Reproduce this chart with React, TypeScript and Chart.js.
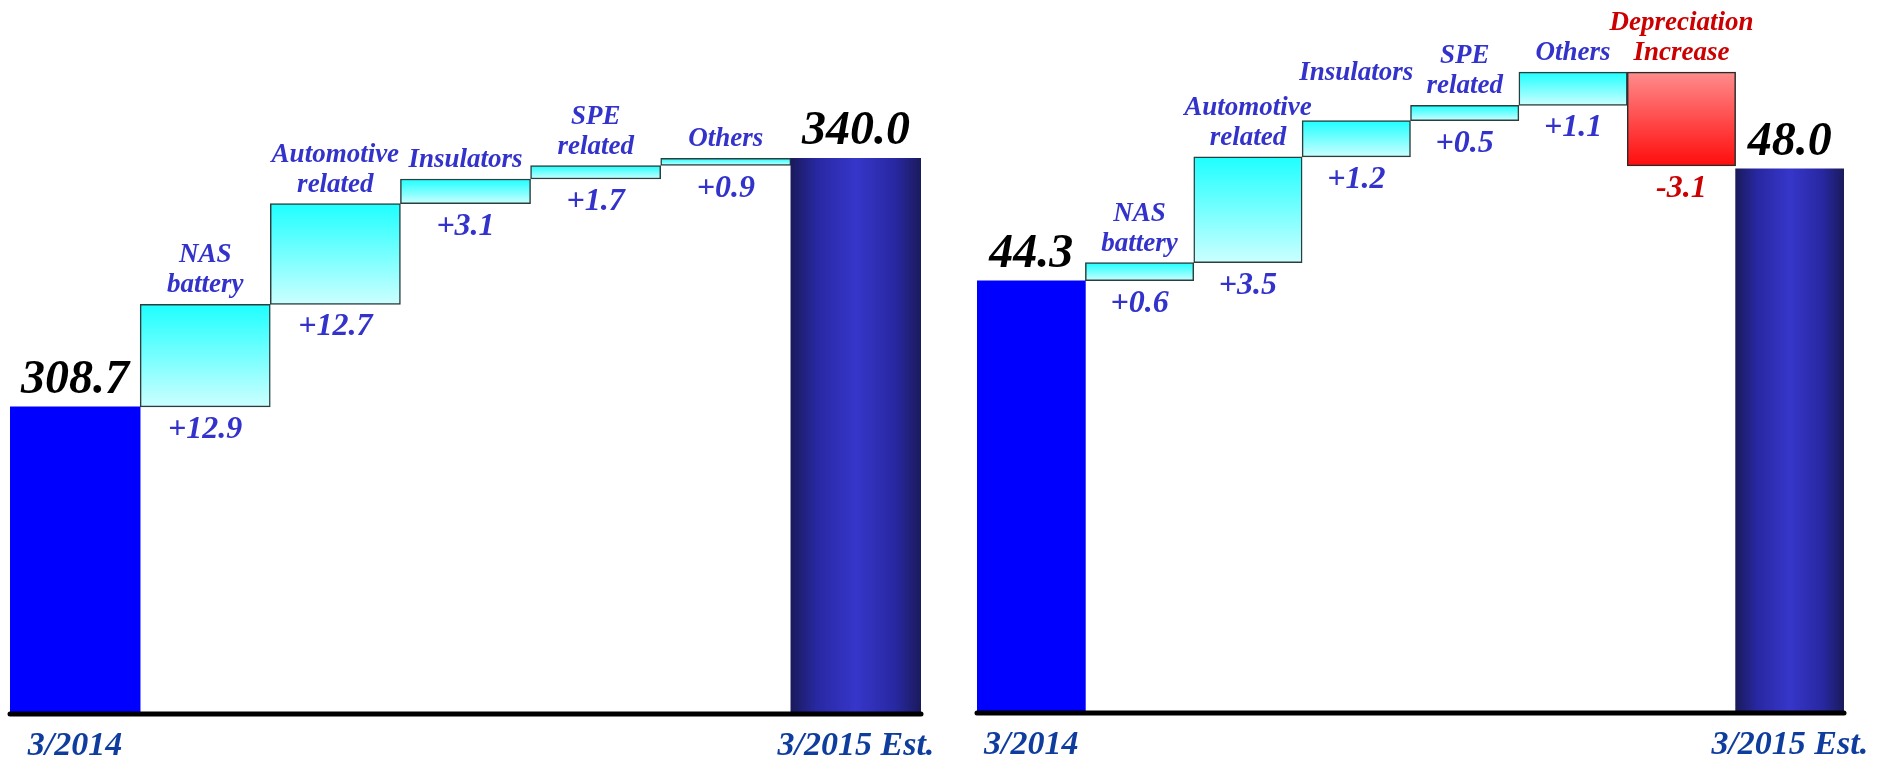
import React, { useEffect, useRef } from 'react';
import { Chart, registerables } from 'chart.js';

Chart.register(...registerables);

const FONT = '"Liberation Serif", "Times New Roman", serif';

// ---- Left chart: Net sales (billion yen) ----
const leftTotals = [308.7, 340.0];
const leftDeltas = [12.9, 12.7, 3.1, 1.7, 0.9];
const leftStepNames = ['NAS\nbattery', 'Automotive\nrelated', 'Insulators', 'SPE\nrelated', 'Others'];
const leftAxisLabels = ['3/2014', '3/2015 Est.'];
const leftRange = [270, 350];

// ---- Right chart: Operating income (billion yen) ----
const rightTotals = [44.3, 48.0];
const rightDeltas = [0.6, 3.5, 1.2, 0.5, 1.1, -3.1];
const rightStepNames = ['NAS\nbattery', 'Automotive\nrelated', 'Insulators', 'SPE\nrelated', 'Others', 'Depreciation\nIncrease'];
const rightAxisLabels = ['3/2014', '3/2015 Est.'];
const rightRange = [30, 52];

type Props = {
  totals: number[];
  deltas: number[];
  stepNames: string[];
  axisLabels: string[];
  range: number[];
  left: number;
  width: number;
  pad: { left: number; right: number; top: number; bottom: number };
};

const font = (size: number) => `italic bold ${size}px ${FONT}`;

function Waterfall({ totals, deltas, stepNames, axisLabels, range, left, width, pad }: Props) {
  const ref = useRef<HTMLCanvasElement | null>(null);

  useEffect(() => {
    if (!ref.current) return;
    const n = deltas.length + 2;
    const labels = [axisLabels[0], ...stepNames, axisLabels[1]];
    const totalData: (number | null)[] = [totals[0], ...deltas.map(() => null), totals[1]];
    const ups: (number[] | null)[] = [null];
    const downs: (number[] | null)[] = [null];
    let run = totals[0];
    deltas.forEach((d) => {
      if (d >= 0) {
        ups.push([run, run + d]);
        downs.push(null);
      } else {
        ups.push(null);
        downs.push([run + d, run]);
      }
      run += d;
    });
    ups.push(null);
    downs.push(null);

    const vertGrad = (c: any, top: string, bottom: string, fallback: string) => {
      const chart = c.chart;
      if (!chart.chartArea || c.dataIndex == null || !Array.isArray(c.raw)) return fallback;
      const y = chart.scales.y;
      const t = y.getPixelForValue(Math.max(c.raw[0], c.raw[1]));
      const b = y.getPixelForValue(Math.min(c.raw[0], c.raw[1]));
      const g = chart.ctx.createLinearGradient(0, t, 0, b);
      g.addColorStop(0, top);
      g.addColorStop(1, bottom);
      return g;
    };

    const totalColor = (c: any) => {
      const chart = c.chart;
      if (!chart.chartArea || c.dataIndex == null) return '#0000ff';
      if (c.dataIndex === 0) return '#0000ff';
      const xs = chart.scales.x;
      const w = (chart.chartArea.right - chart.chartArea.left) / n;
      const cx = xs.getPixelForValue(c.dataIndex);
      const g = chart.ctx.createLinearGradient(cx - w / 2, 0, cx + w / 2, 0);
      g.addColorStop(0, '#1a1a5c');
      g.addColorStop(0.2, '#2828a2');
      g.addColorStop(0.5, '#3636ca');
      g.addColorStop(0.8, '#2828a2');
      g.addColorStop(1, '#1a1a5c');
      return g;
    };

    const LINE_H = 30;
    const CAP = 19;

    const labelPlugin = {
      id: 'waterfallLabels',
      afterDatasetsDraw(chart: any) {
        const ctx = chart.ctx;
        const area = chart.chartArea;
        ctx.save();
        // baseline
        ctx.beginPath();
        ctx.lineWidth = 5;
        ctx.lineCap = 'round';
        ctx.strokeStyle = '#000000';
        ctx.moveTo(area.left, area.bottom);
        ctx.lineTo(area.right, area.bottom);
        ctx.stroke();

        ctx.textAlign = 'center';
        ctx.textBaseline = 'alphabetic';
        const metas = [0, 1, 2].map((i) => chart.getDatasetMeta(i));
        let prevBox: { l: number; r: number; top: number; bottom: number } | null = null;
        for (let i = 0; i < n; i++) {
          let el: any = null;
          for (const m of metas) {
            const e = m.data[i];
            if (e && Number.isFinite(e.y) && m.controller.getDataset().data[i] != null) {
              el = e;
              break;
            }
          }
          if (!el) continue;
          const top = Math.min(el.y, el.base);
          const bottom = Math.max(el.y, el.base);
          const x = el.x;
          if (i === 0 || i === n - 1) {
            const v = i === 0 ? totals[0] : totals[1];
            ctx.fillStyle = '#000000';
            ctx.font = font(48);
            ctx.fillText(v.toFixed(1), x, top - 14);
            ctx.fillStyle = '#0f3d9e';
            ctx.font = font(34);
            ctx.fillText(labels[i], x, area.bottom + 41);
          } else {
            const d = deltas[i - 1];
            const color = d < 0 ? '#cc0000' : '#3333cc';
            ctx.fillStyle = color;
            ctx.font = font(27);
            const lines = labels[i].split('\n');
            const w = Math.max(...lines.map((s) => ctx.measureText(s).width));
            let base = top - 12;
            const boxFor = (b: number) => ({
              l: x - w / 2,
              r: x + w / 2,
              top: b - (lines.length - 1) * LINE_H - CAP,
              bottom: b + 6,
            });
            let box = boxFor(base);
            if (prevBox) {
              const hOverlap = Math.min(box.r, prevBox.r) - Math.max(box.l, prevBox.l);
              if (hOverlap > 4 && box.bottom > prevBox.top && box.top < prevBox.bottom) {
                base = prevBox.top - 16;
                box = boxFor(base);
              }
            }
            prevBox = box;
            lines.forEach((line, k) => {
              ctx.fillText(line, x, base - (lines.length - 1 - k) * LINE_H);
            });
            ctx.font = font(32);
            const txt = (d >= 0 ? '+' : '-') + Math.abs(d).toFixed(1);
            ctx.fillText(txt, x, bottom + 31);
          }
        }
        ctx.restore();
      },
    };

    const common = { barPercentage: 1, categoryPercentage: 1, grouped: false };

    const chart = new Chart(ref.current, {
      type: 'bar',
      data: {
        labels,
        datasets: [
          {
            ...common,
            data: totalData as any,
            base: range[0],
            backgroundColor: totalColor as any,
            borderWidth: 0,
          },
          {
            ...common,
            data: ups as any,
            backgroundColor: ((c: any) => vertGrad(c, '#1effff', '#ccffff', '#80ffff')) as any,
            borderColor: '#2a3e3e',
            borderWidth: 1.5,
            borderSkipped: false,
          },
          {
            ...common,
            data: downs as any,
            backgroundColor: ((c: any) => vertGrad(c, '#ff8c8c', '#ff0c0c', '#ff4444')) as any,
            borderColor: '#2a2a2a',
            borderWidth: 1.5,
            borderSkipped: false,
          },
        ],
      },
      options: {
        animation: false,
        responsive: false,
        devicePixelRatio: 1,
        layout: { padding: pad },
        plugins: { legend: { display: false }, tooltip: { enabled: false } },
        scales: {
          x: { display: false },
          y: { display: false, min: range[0], max: range[1] },
        },
      },
      plugins: [labelPlugin],
    });
    return () => chart.destroy();
  }, []);

  return (
    <canvas
      ref={ref}
      width={width}
      height={762}
      style={{ position: 'absolute', left, top: 0, width, height: 762 }}
    />
  );
}

export default function App() {
  return (
    <div style={{ position: 'fixed', left: 0, top: 0, width: 1887, height: 762, background: '#ffffff' }}>
      <Waterfall
        totals={leftTotals}
        deltas={leftDeltas}
        stepNames={leftStepNames}
        axisLabels={leftAxisLabels}
        range={leftRange}
        left={0}
        width={950}
        pad={{ left: 10, right: 29, top: 79, bottom: 48 }}
      />
      <Waterfall
        totals={rightTotals}
        deltas={rightDeltas}
        stepNames={rightStepNames}
        axisLabels={rightAxisLabels}
        range={rightRange}
        left={950}
        width={937}
        pad={{ left: 27, right: 43, top: 48, bottom: 49 }}
      />
    </div>
  );
}
